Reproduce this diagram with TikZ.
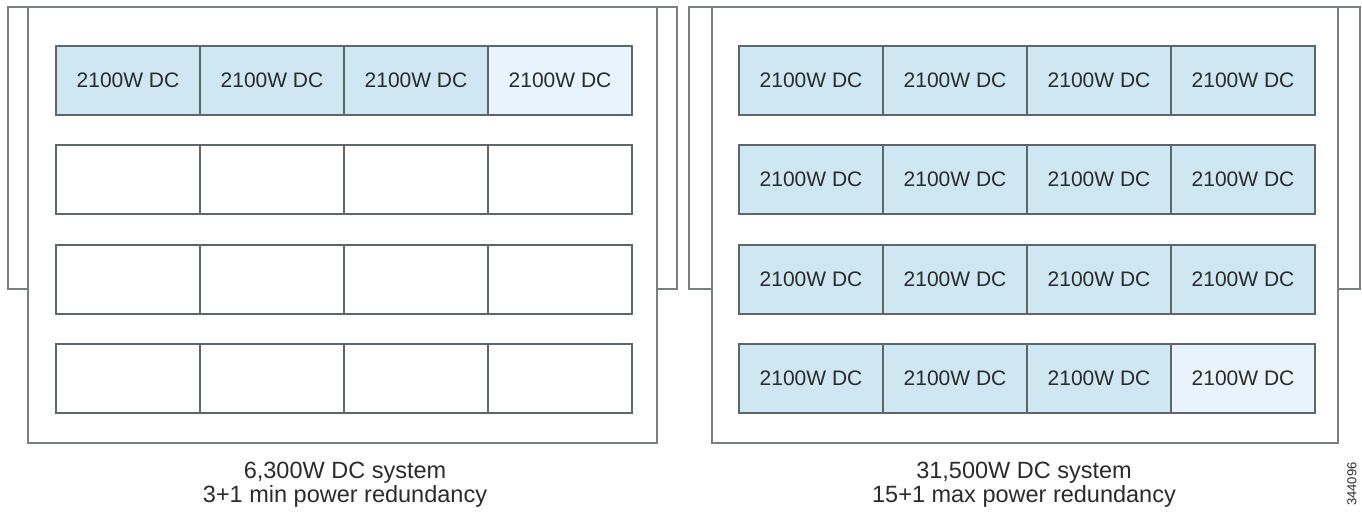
\documentclass[tikz,border=0pt]{standalone}
\usepackage{fontspec}
\setmainfont{Liberation Sans}
\definecolor{psu}{HTML}{CFE6F3}
\definecolor{psulight}{HTML}{E8F3FB}
\definecolor{edge}{HTML}{5E666C}
\definecolor{frame}{HTML}{7A7E82}
\definecolor{txt}{HTML}{2B2B2B}
\tikzset{
  psubox/.style={draw=edge, line width=1.3pt, minimum width=144pt, minimum height=69pt,
    inner sep=0pt, outer sep=0pt, anchor=north west, text=txt,
    font=\fontsize{21}{24}\selectfont},
  chassis/.style={draw=frame, line width=1.4pt, fill=white},
  backframe/.style={draw=frame, line width=1.4pt, fill=white},
  caption/.style={anchor=base, text=txt, font=\fontsize{23.5}{27}\selectfont, inner sep=0pt},
}
\begin{document}
\begin{tikzpicture}[x=1pt,y=-1pt]
\useasboundingbox (0,0) rectangle (1362,516);
% left system
\draw[backframe] (8,7) rectangle (677,289);
\draw[chassis] (28,7) rectangle (657,443);
% right system
\draw[backframe] (689,7) rectangle (1360,289);
\draw[chassis] (712,7) rectangle (1338,443);
% left modules
\foreach \r/\y in {1/46,2/145,3/245,4/344}{
  \foreach \c in {0,1,2,3}{
    \pgfmathsetmacro{\xx}{56+144*\c}
    \ifnum\r=1
      \ifnum\c=3
        \node[psubox, fill=psulight] (L\r\c) at (\xx,\y) {2100W DC};
      \else
        \node[psubox, fill=psu] (L\r\c) at (\xx,\y) {2100W DC};
      \fi
    \else
      \node[psubox, fill=white] (L\r\c) at (\xx,\y) {};
    \fi
  }
}
% right modules
\foreach \r/\y in {1/46,2/145,3/245,4/344}{
  \foreach \c in {0,1,2,3}{
    \pgfmathsetmacro{\xx}{739+144*\c}
    \ifnum\r=4
      \ifnum\c=3
        \node[psubox, fill=psulight] (R\r\c) at (\xx,\y) {2100W DC};
      \else
        \node[psubox, fill=psu] (R\r\c) at (\xx,\y) {2100W DC};
      \fi
    \else
      \node[psubox, fill=psu] (R\r\c) at (\xx,\y) {2100W DC};
    \fi
  }
}
% captions
\node[caption] (lc1) at (345,478) {6,300W DC system};
\node[caption] (lc2) at (345,502) {3+1 min power redundancy};
\node[caption] (rc1) at (1024,478) {31,500W DC system};
\node[caption] (rc2) at (1024,502) {15+1 max power redundancy};
\node[rotate=90, text=txt, font=\fontsize{13}{14}\selectfont, inner sep=0pt] (id) at (1352,484) {344096};
\end{tikzpicture}
\end{document}
